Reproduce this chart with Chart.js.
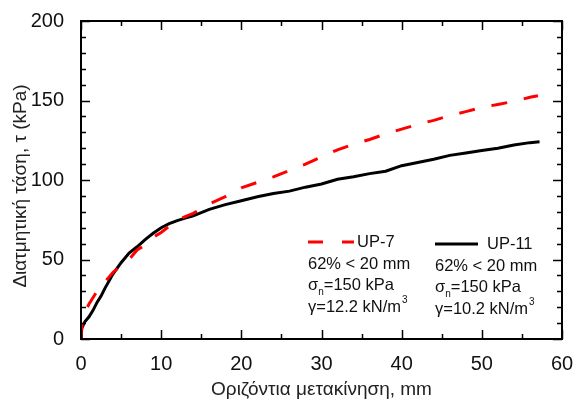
<!DOCTYPE html>
<html>
<head>
<meta charset="utf-8">
<script src="https://cdn.jsdelivr.net/npm/chart.js@4"></script>
<style>
  html, body { margin: 0; padding: 0; background: #fff; }
  #wrap { width: 575px; height: 401px; position: relative; }
</style>
</head>
<body>
<div id="wrap"><canvas id="myChart"></canvas></div>
<script>
// UP-7 (red dashed)
const xUP7 = [0, 0.15, 0.5, 1, 2, 3, 4, 5, 6, 7, 8, 9, 10, 11, 12, 13, 14, 16, 18, 20, 22, 24, 26, 28, 30, 32, 34, 36, 38, 40, 42, 44, 46, 48, 50, 52, 54, 56, 57];
const yUP7 = [0, 10, 17, 22, 30, 36, 42, 46, 50, 56, 59, 64, 67, 71, 74.5, 77, 79, 85, 89.5, 95, 98.5, 102, 106, 110, 114.5, 119, 122.5, 125.5, 129, 132, 135, 137.5, 140.5, 143, 145.7, 147.5, 149.5, 152, 153];

// UP-11 (black solid)
const xUP11 = [0, 0.05, 0.3, 0.5, 1, 1.5, 2, 2.5, 3, 4, 5, 6, 7, 8, 9, 10, 11, 12, 13, 14, 16, 18, 20, 22, 24, 26, 28, 30, 32, 34, 36, 38, 40, 42, 44, 46, 48, 50, 52, 54, 56, 57.2];
const yUP11 = [0, 6, 9, 11, 14, 18, 23, 27, 32, 41, 48, 54, 58, 62.5, 66.5, 70, 72.5, 74.5, 76, 77.5, 81.5, 84.5, 87, 89.5, 91.5, 93, 95.5, 97.5, 100.5, 102, 104, 105.5, 109, 111, 113, 115.5, 117, 118.5, 120, 122, 123.5, 124];

const xTicks = [0, 10, 20, 30, 40, 50, 60];
const yTicks = [0, 50, 100, 150, 200];

const FONT = '"Liberation Sans", Arial, sans-serif';

function toPoints(xs, ys) {
  return xs.map((x, i) => ({ x: x, y: ys[i] }));
}

// frame + inward ticks + y title + legend text
const decorPlugin = {
  id: 'decor',
  afterDraw(chart) {
    const ctx = chart.ctx;
    const a = chart.chartArea;
    const xs = chart.scales.x, ys = chart.scales.y;
    ctx.save();
    ctx.strokeStyle = '#000';
    ctx.lineWidth = 2;
    ctx.strokeRect(a.left, a.top, a.right - a.left, a.bottom - a.top);
    ctx.lineWidth = 1.5;
    ctx.beginPath();
    for (let v = 0; v <= 60; v += 5) {
      const px = Math.round(xs.getPixelForValue(v)) + 0.5;
      const len = v % 10 === 0 ? 9 : 5;
      ctx.moveTo(px, a.bottom); ctx.lineTo(px, a.bottom - len);
      ctx.moveTo(px, a.top); ctx.lineTo(px, a.top + len);
    }
    for (let v = 0; v <= 200; v += 10) {
      const py = Math.round(ys.getPixelForValue(v)) + 0.5;
      const len = v % 50 === 0 ? 9 : 5;
      ctx.moveTo(a.left, py); ctx.lineTo(a.left + len, py);
      ctx.moveTo(a.right, py); ctx.lineTo(a.right - len, py);
    }
    ctx.stroke();

    // axis titles
    ctx.fillStyle = '#222';
    ctx.font = '19px ' + FONT;
    ctx.textAlign = 'center';
    ctx.textBaseline = 'middle';
    ctx.fillText('Οριζόντια μετακίνηση, mm', (a.left + a.right) / 2, 390);
    ctx.save();
    ctx.translate(21, (a.top + a.bottom) / 2 + 6);
    ctx.rotate(-Math.PI / 2);
    ctx.fillText('Διατμητική τάση, τ (kPa)', 0, 0);
    ctx.restore();
    ctx.textAlign = 'left';

    // legend
    const lx1 = a.left + 227, lx2 = a.left + 354;
    const ly = a.top + 221;
    ctx.lineWidth = 3;
    ctx.strokeStyle = '#ff0000';
    ctx.setLineDash([15, 19]);
    ctx.beginPath(); ctx.moveTo(lx1, ly); ctx.lineTo(lx1 + 46, ly); ctx.stroke();
    ctx.setLineDash([]);
    ctx.strokeStyle = '#000';
    ctx.beginPath(); ctx.moveTo(lx2, ly + 2); ctx.lineTo(lx2 + 43, ly + 2); ctx.stroke();

    ctx.fillStyle = '#111';
    ctx.font = '16.5px ' + FONT;
    ctx.fillText('UP-7', lx1 + 49, ly);
    ctx.fillText('UP-11', lx2 + 52, ly + 2);
    const rows = [
      [lx1, ly + 22, '62% < 20 mm', '12.2'],
      [lx2, ly + 24, '62% < 20 mm', '10.2']
    ];
    rows.forEach(r => {
      const x = r[0];
      let y = r[1];
      ctx.font = '16.5px ' + FONT;
      ctx.fillText(r[2], x, y);
      y += 21;
      ctx.fillText('σ', x, y);
      let w = ctx.measureText('σ').width;
      ctx.font = '10px ' + FONT;
      ctx.fillText('n', x + w, y + 7);
      const wn = ctx.measureText('n').width;
      ctx.font = '16.5px ' + FONT;
      ctx.fillText('=150 kPa', x + w + wn, y);
      y += 22;
      const t = 'γ=' + r[3] + ' kN/m';
      ctx.fillText(t, x, y);
      w = ctx.measureText(t).width;
      ctx.font = '10px ' + FONT;
      ctx.fillText('3', x + w + 1, y - 7);
    });
    ctx.restore();
  }
};

const ctx = document.getElementById('myChart').getContext('2d');
const myChart = new Chart(ctx, {
  type: 'scatter',
  data: {
    datasets: [
      {
        label: 'UP-7',
        data: toPoints(xUP7, yUP7),
        showLine: true,
        borderColor: '#ff0000',
        borderWidth: 3,
        borderDash: [16, 17],
        pointRadius: 0,
        tension: 0
      },
      {
        label: 'UP-11',
        data: toPoints(xUP11, yUP11),
        showLine: true,
        borderColor: '#000000',
        borderWidth: 3,
        pointRadius: 0,
        tension: 0
      }
    ]
  },
  options: {
    responsive: true,
    maintainAspectRatio: false,
    animation: false,
    layout: { padding: { left: 0, right: 13, top: 21, bottom: 0 } },
    plugins: {
      legend: { display: false },
      tooltip: { enabled: false }
    },
    scales: {
      x: {
        type: 'linear',
        min: 0,
        max: 60,
        afterBuildTicks: s => { s.ticks = xTicks.map(v => ({ value: v })); },
        afterFit: s => { s.height = 62; s.paddingLeft = 0; s.paddingRight = 0; },
        grid: { display: false },
        border: { display: false },
        ticks: { font: { family: FONT, size: 20 }, color: '#111', padding: 5, maxRotation: 0 }
      },
      y: {
        type: 'linear',
        min: 0,
        max: 200,
        afterBuildTicks: s => { s.ticks = yTicks.map(v => ({ value: v })); },
        afterFit: s => { s.width = 81; s.paddingTop = 0; s.paddingBottom = 0; },
        grid: { display: false },
        border: { display: false },
        ticks: { font: { family: FONT, size: 20 }, color: '#111', padding: 9 }
      }
    }
  },
  plugins: [decorPlugin]
});
</script>
</body>
</html>
